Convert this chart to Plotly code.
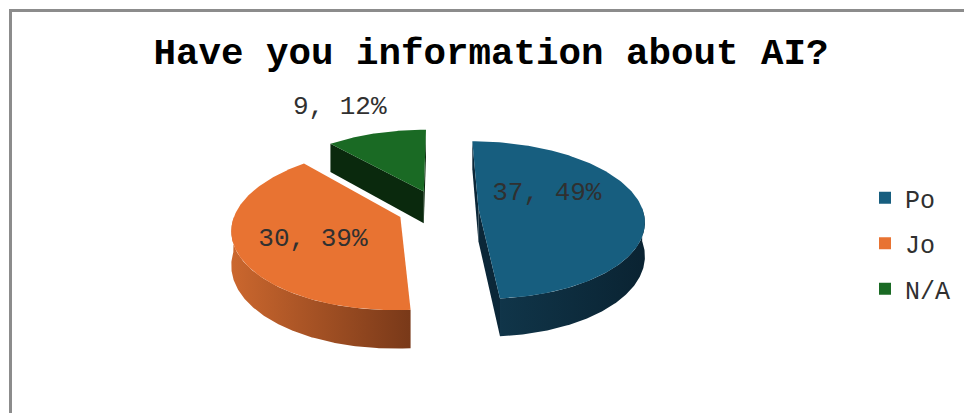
import numpy as np
import plotly.graph_objects as go

# Survey answers
categories = ["Po", "Jo", "N/A"]
counts = [37, 30, 9]

top_colors = ["#175E7F", "#E87332", "#1A6A24"]
wall_colors = [("#103549", "#0A2332"), ("#CB672E", "#793919"), ("#0B2C0F", "#0B2C0F")]
side_colors = ["#0B2738", "#8A4420", "#0A290D"]

# Canvas and pseudo-3D projection settings (pixel space)
W, H = 964, 413
CX, CY = 438, 209          # pie centre
RX, RY = 164, 79           # ellipse radii of the top face
PERSP = 0.15               # far side shrinks, near side grows
DEPTH = 33                 # wall thickness
EXPLODE = 0.247            # slice explosion (fraction of radius)
N_ARC = 160

FONT = "Liberation Mono"
TEXT_COLOR = "#303030"


def project(X, Y, z=0.0):
    X = np.asarray(X, float)
    Y = np.asarray(Y, float)
    k = 1 - PERSP * Y
    return CX + RX * X * k, CY - RY * Y * k + DEPTH * k * z


def signed_area(xs, ys):
    return 0.5 * np.sum(xs * np.roll(ys, -1) - np.roll(xs, -1) * ys)


total = sum(counts)
fracs = np.array(counts, float) / total
edges = np.concatenate([[0.0], np.cumsum(fracs)]) * 360.0
pcts = [int(round(f * 100)) for f in fracs]

slices = []
for i in range(len(counts)):
    a0, a1 = edges[i], edges[i + 1]
    mid = np.radians((a0 + a1) / 2)
    ox, oy = EXPLODE * np.sin(mid), EXPLODE * np.cos(mid)
    slices.append(dict(i=i, a0=a0, a1=a1, mid=mid, ox=ox, oy=oy))

fig = go.Figure()

# far slices first
for s in sorted(slices, key=lambda d: -d["oy"]):
    i, a0, a1, ox, oy = s["i"], s["a0"], s["a1"], s["ox"], s["oy"]

    # radial cut faces
    for ang, is_start in ((a0, True), (a1, False)):
        t = np.radians(ang)
        ex, ey = ox + np.sin(t), oy + np.cos(t)
        if is_start:
            Xs, Ys, Zs = [ox, ex, ex, ox], [oy, ey, ey, oy], [0, 0, 1, 1]
        else:
            Xs, Ys, Zs = [ox, ox, ex, ex], [oy, oy, ey, ey], [0, 1, 1, 0]
        px, py = project(Xs, Ys, np.array(Zs, float))
        if signed_area(px, py) < -1e-6:
            fig.add_trace(go.Scatter(
                x=np.append(px, px[0]), y=np.append(py, py[0]), mode="lines",
                fill="toself", fillcolor=side_colors[i], line=dict(width=0),
                hoverinfo="skip", showlegend=False))

    # outer curved wall on the near half
    w0, w1 = max(a0, 90.0), min(a1, 270.0)
    if w1 > w0:
        th = np.radians(np.linspace(w0, w1, N_ARC))
        X = ox + np.sin(th)
        Y = oy + np.cos(th)
        tx, ty = project(X, Y, 0.0)
        bx, by = project(X, Y, 1.0)
        wx = np.concatenate([tx, bx[::-1], tx[:1]])
        wy = np.concatenate([ty, by[::-1], ty[:1]])
        c0, c1 = wall_colors[i]
        fig.add_trace(go.Scatter(
            x=wx, y=wy, mode="lines", fill="toself", line=dict(width=0),
            fillcolor=c1,
            fillgradient=dict(type="horizontal", colorscale=[[0, c0], [1, c1]]),
            hoverinfo="skip", showlegend=False))

    # top face
    th = np.radians(np.linspace(a0, a1, N_ARC))
    X = np.concatenate([[ox], ox + np.sin(th), [ox]])
    Y = np.concatenate([[oy], oy + np.cos(th), [oy]])
    px, py = project(X, Y, 0.0)
    fig.add_trace(go.Scatter(
        x=px, y=py, mode="lines", fill="toself", fillcolor=top_colors[i],
        line=dict(width=0), hoverinfo="skip", showlegend=False))

# data labels: placed along each slice's mid-angle
label_radius = [0.42, 0.56, 1.30]
label_shift = [(0, -13), (2, 4), (-26, -12)]
lx, ly, lt = [], [], []
for s in slices:
    i = s["i"]
    r = label_radius[i]
    X = s["ox"] + r * np.sin(s["mid"])
    Y = s["oy"] + r * np.cos(s["mid"])
    px, py = project(X, Y, 0.0)
    lx.append(float(px) + label_shift[i][0])
    ly.append(float(py) + label_shift[i][1])
    lt.append(f"{counts[i]}, {pcts[i]}%")
fig.add_trace(go.Scatter(
    x=lx, y=ly, text=lt, mode="text", textposition="middle center",
    textfont=dict(family=FONT, size=26, color=TEXT_COLOR),
    hoverinfo="skip", showlegend=False))

# legend entries
for i, name in enumerate(categories):
    fig.add_trace(go.Scatter(
        x=[None], y=[None], mode="markers", name=name, legendgroup=name,
        marker=dict(symbol="square", size=12, color=top_colors[i])))

fig.update_layout(
    width=W, height=H,
    margin=dict(l=0, r=0, t=0, b=0),
    paper_bgcolor="white", plot_bgcolor="white",
    xaxis=dict(range=[0, W], visible=False, fixedrange=True),
    yaxis=dict(range=[H, 0], visible=False, fixedrange=True),
    title=dict(
        text="<b>Have you information about AI?</b>",
        x=491 / W, xanchor="center", y=1 - 51 / H, yanchor="middle",
        font=dict(family=FONT, size=37.5, color="#000000")),
    legend=dict(
        x=865 / W, xanchor="left", y=1 - 175 / H, yanchor="top",
        font=dict(family=FONT, size=25, color=TEXT_COLOR),
        tracegroupgap=10, bgcolor="rgba(0,0,0,0)", itemclick=False,
        itemdoubleclick=False),
    shapes=[dict(type="rect", xref="x", yref="y", x0=10.5, y0=10.5,
                 x1=W + 20, y1=H + 20, line=dict(color="#8C8C8C", width=3))],
    showlegend=True,
)

fig.write_html("out.html")
